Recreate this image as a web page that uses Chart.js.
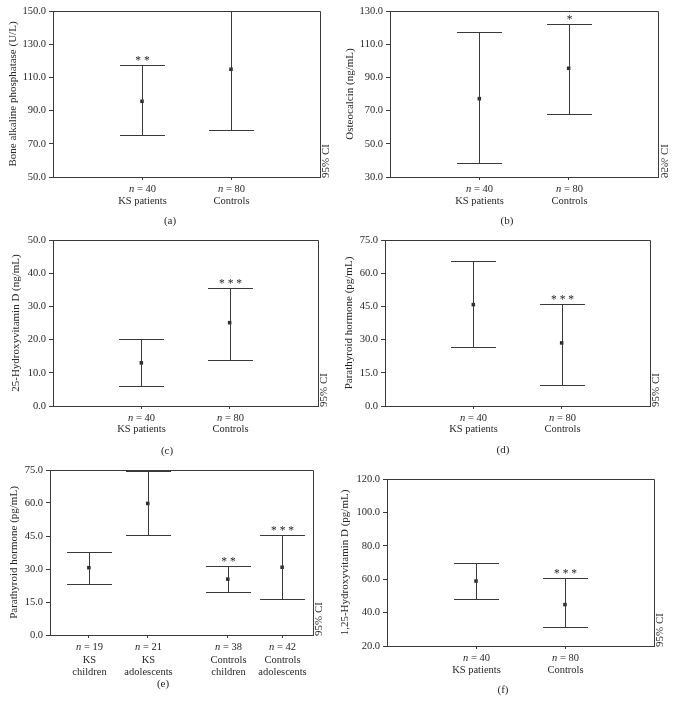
<!DOCTYPE html>
<html>
<head>
<meta charset="utf-8">
<script src="https://cdn.jsdelivr.net/npm/chart.js@4.4.1/dist/chart.umd.min.js"></script>
<style>
  html, body { margin: 0; padding: 0; background: #fff; }
  #wrap { position: relative; width: 674px; height: 712px; overflow: hidden; }
  canvas { position: absolute; }
</style>
</head>
<body>
<div id="wrap"></div>
<script>
// (a) bone alkaline phosphatase
const groupsA = [['KS patients'], ['Controls']];
const nA = [40, 80];
const meanA = [95.6, 114.9];
const lowA = [75.2, 78.5];
const highA = [117.3, 150.0];
const starsA = ['**', ''];
const ticksA = [50, 70, 90, 110, 130, 150];

// (b) osteocalcin
const groupsB = [['KS patients'], ['Controls']];
const nB = [40, 80];
const meanB = [77.2, 95.5];
const lowB = [38.6, 68.1];
const highB = [117.2, 122.0];
const starsB = ['', '*'];
const ticksB = [30, 50, 70, 90, 110, 130];

// (c) 25-hydroxyvitamin D
const groupsC = [['KS patients'], ['Controls']];
const nC = [40, 80];
const meanC = [13.0, 25.1];
const lowC = [6.1, 13.8];
const highC = [20.1, 35.5];
const starsC = ['', '***'];
const ticksC = [0, 10, 20, 30, 40, 50];

// (d) parathyroid hormone
const groupsD = [['KS patients'], ['Controls']];
const nD = [40, 80];
const meanD = [45.8, 28.5];
const lowD = [26.7, 9.6];
const highD = [65.4, 45.9];
const starsD = ['', '***'];
const ticksD = [0, 15, 30, 45, 60, 75];

// (e) parathyroid hormone by age group
const groupsE = [['KS', 'children'], ['KS', 'adolescents'], ['Controls', 'children'], ['Controls', 'adolescents']];
const nE = [19, 21, 38, 42];
const meanE = [30.6, 59.8, 25.4, 30.8];
const lowE = [23.2, 45.3, 19.5, 16.5];
const highE = [37.6, 74.7, 31.5, 45.4];
const starsE = ['', '', '**', '***'];
const ticksE = [0, 15, 30, 45, 60, 75];

// (f) 1,25-hydroxyvitamin D
const groupsF = [['KS patients'], ['Controls']];
const nF = [40, 80];
const meanF = [58.9, 44.8];
const lowF = [47.9, 31.2];
const highF = [69.7, 60.7];
const starsF = ['', '***'];
const ticksF = [20, 40, 60, 80, 100, 120];

const lineColor = '#3a3a3a';
const textColor = '#262626';
const serif = '"Liberation Serif", "DejaVu Serif", serif';

const panels = [
  { letter: '(a)', title: 'Bone alkaline phosphatase (U/L)', groups: groupsA, n: nA, mean: meanA, low: lowA, high: highA, stars: starsA, ticks: ticksA,
    xs: [1, 2], xMax: 3, left: 0, top: 0, w: 337, h: 232, area: { l: 53, r: 320, t: 11, b: 177 }, titlePad: 6.4, lab: [170, 221], gap: 11.5 },
  { letter: '(b)', title: 'Osteocalcin (ng/mL)', groups: groupsB, n: nB, mean: meanB, low: lowB, high: highB, stars: starsB, ticks: ticksB,
    xs: [1, 2], xMax: 3, left: 337, top: 0, w: 337, h: 232, area: { l: 53, r: 321, t: 11, b: 177 }, titlePad: 6.4, lab: [170, 221], gap: 11.5, mirror: true },
  { letter: '(c)', title: '25-Hydroxyvitamin D (ng/mL)', groups: groupsC, n: nC, mean: meanC, low: lowC, high: highC, stars: starsC, ticks: ticksC,
    xs: [1, 2], xMax: 3, left: 0, top: 215, w: 337, h: 245, area: { l: 53, r: 318, t: 25, b: 191 }, titlePad: 9.4, lab: [167, 236], gap: 11 },
  { letter: '(d)', title: 'Parathyroid hormone (pg/mL)', groups: groupsD, n: nD, mean: meanD, low: lowD, high: highD, stars: starsD, ticks: ticksD,
    xs: [1, 2], xMax: 3, left: 337, top: 215, w: 337, h: 245, area: { l: 48, r: 313, t: 25, b: 191 }, titlePad: 5.4, lab: [166, 235], gap: 11 },
  { letter: '(e)', title: 'Parathyroid hormone (pg/mL)', groups: groupsE, n: nE, mean: meanE, low: lowE, high: highE, stars: starsE, ticks: ticksE,
    xs: [0.68, 1.71, 3.11, 4.06], xMax: 4.6, left: 0, top: 445, w: 337, h: 267, area: { l: 50, r: 313, t: 25, b: 190 }, titlePad: 7.4, lab: [163, 239], gap: 12.5 },
  { letter: '(f)', title: '1,25-Hydroxyvitamin D (pg/mL)', groups: groupsF, n: nF, mean: meanF, low: lowF, high: highF, stars: starsF, ticks: ticksF,
    xs: [1, 2], xMax: 3, left: 337, top: 445, w: 337, h: 267, area: { l: 50, r: 317, t: 34, b: 201 }, titlePad: 1.4, lab: [166, 245], gap: 11.5 }
];

function makeExtras(p) {
  return {
    id: 'extras' + p.letter,
    afterDraw(chart) {
      const ctx = chart.ctx;
      const xs = chart.scales.x, ys = chart.scales.y;
      const a = chart.chartArea;
      ctx.save();
      ctx.strokeStyle = lineColor;
      ctx.lineWidth = 1;
      // top and right frame
      ctx.beginPath();
      ctx.moveTo(a.left, a.top + 0.5);
      ctx.lineTo(a.right + 0.5, a.top + 0.5);
      ctx.lineTo(a.right + 0.5, a.bottom);
      ctx.stroke();

      // confidence intervals
      p.xs.forEach((xv, i) => {
        const x = Math.round(xs.getPixelForValue(xv)) + 0.5;
        const yl = Math.round(ys.getPixelForValue(p.low[i])) + 0.5;
        const yh = Math.round(ys.getPixelForValue(p.high[i])) + 0.5;
        ctx.beginPath();
        ctx.moveTo(x, yl); ctx.lineTo(x, yh);
        ctx.moveTo(x - 22.5, yl); ctx.lineTo(x + 22.5, yl);
        ctx.moveTo(x - 22.5, yh); ctx.lineTo(x + 22.5, yh);
        ctx.stroke();
        if (p.stars[i]) {
          ctx.fillStyle = textColor;
          ctx.font = '11.5px ' + serif;
          ctx.textAlign = 'center';
          ctx.textBaseline = 'alphabetic';
          ctx.fillText(p.stars[i].split('').join(' '), x, yh - 1.5);
        }
        // category labels with italic n
        ctx.fillStyle = textColor;
        ctx.textBaseline = 'middle';
        const y0 = a.bottom + 12.5;
        ctx.font = 'italic 10.5px ' + serif;
        const wn = ctx.measureText('n').width;
        ctx.font = '10.5px ' + serif;
        const rest = ' = ' + p.n[i];
        const wr = ctx.measureText(rest).width;
        const sx = x - (wn + wr) / 2;
        ctx.textAlign = 'left';
        ctx.font = 'italic 10.5px ' + serif;
        ctx.fillText('n', sx, y0);
        ctx.font = '10.5px ' + serif;
        ctx.fillText(rest, sx + wn, y0);
        ctx.textAlign = 'center';
        p.groups[i].forEach((t, k) => ctx.fillText(t, x, y0 + (k + 1) * p.gap));
      });

      // 95% CI note
      ctx.save();
      ctx.translate(a.right + 6, a.bottom + 1);
      if (p.mirror) ctx.scale(-1, 1);
      ctx.rotate(-Math.PI / 2);
      ctx.font = '11px ' + serif;
      ctx.fillStyle = textColor;
      ctx.textAlign = 'left';
      ctx.textBaseline = 'middle';
      ctx.fillText('95% CI', 0, 0);
      ctx.restore();

      // panel letter
      ctx.font = '11px ' + serif;
      ctx.fillStyle = textColor;
      ctx.textAlign = 'center';
      ctx.textBaseline = 'middle';
      ctx.fillText(p.letter, p.lab[0], p.lab[1]);
      ctx.restore();
    }
  };
}

const wrap = document.getElementById('wrap');

panels.forEach(p => {
  const cv = document.createElement('canvas');
  cv.width = p.w; cv.height = p.h;
  cv.style.left = p.left + 'px';
  cv.style.top = p.top + 'px';
  cv.style.width = p.w + 'px';
  cv.style.height = p.h + 'px';
  wrap.appendChild(cv);

  new Chart(cv, {
    type: 'scatter',
    data: {
      datasets: [{
        data: p.xs.map((x, i) => ({ x: x, y: p.mean[i] })),
        pointStyle: 'rect',
        pointRadius: 2.5,
        pointHoverRadius: 2.5,
        backgroundColor: '#2a2a2a',
        borderColor: '#2a2a2a',
        borderWidth: 0
      }]
    },
    options: {
      responsive: false,
      animation: false,
      events: [],
      devicePixelRatio: 1,
      layout: { padding: { left: 0, top: p.area.t, right: p.w - p.area.r, bottom: 0 } },
      plugins: { legend: { display: false }, tooltip: { enabled: false } },
      scales: {
        x: {
          type: 'linear',
          min: 0,
          max: p.xMax,
          afterBuildTicks: s => { s.ticks = p.xs.map(v => ({ value: v })); },
          afterFit: s => { s.height = p.h - p.area.b; },
          ticks: { display: false },
          grid: { display: true, drawOnChartArea: false, drawTicks: true, tickLength: 3, color: lineColor },
          border: { display: true, color: lineColor, width: 1 }
        },
        y: {
          min: p.ticks[0],
          max: p.ticks[p.ticks.length - 1],
          afterBuildTicks: s => { s.ticks = p.ticks.map(v => ({ value: v })); },
          afterFit: s => { s.width = p.area.l; },
          ticks: {
            callback: v => Number(v).toFixed(1),
            font: { family: serif, size: 10.5 },
            color: textColor,
            padding: 3
          },
          grid: { display: true, drawOnChartArea: false, drawTicks: true, tickLength: 4, color: lineColor },
          border: { display: true, color: lineColor, width: 1 },
          title: {
            display: true,
            text: p.title,
            font: { family: serif, size: 11 },
            color: textColor,
            padding: { top: p.titlePad, bottom: 0 }
          }
        }
      }
    },
    plugins: [makeExtras(p)]
  });
});
</script>
</body>
</html>
